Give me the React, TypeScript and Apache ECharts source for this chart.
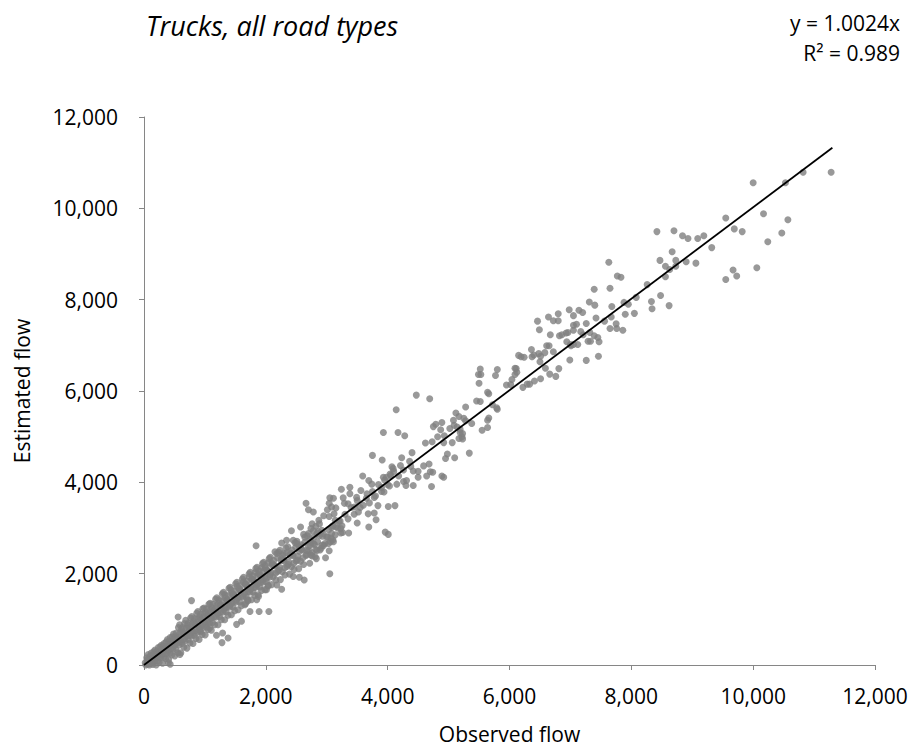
import React, { useEffect, useRef } from "react";
import * as echarts from "echarts";

const titleText = "Trucks, all road types";
const equationText = "y = 1.0024x";
const r2Text = "R² = 0.989";
const xAxisName = "Observed flow";
const yAxisName = "Estimated flow";
const axisMin = 0;
const axisMax = 12000;
const axisStep = 2000;
const trendSlope = 1.0024;
const trendXEnd = 11300;

// dense cloud near the origin (estimated)
const cloudLow: number[][] = [
  [20,50],[30,0],[45,160],[55,20],[70,230],[80,60],[90,0],[105,200],[115,40],[125,150],
  [135,200],[145,10],[160,290],[170,80],[180,330],[190,130],[200,0],[210,300],[220,90],[230,250],
  [240,280],[250,60],[265,400],[275,170],[285,430],[295,230],[305,40],[315,410],[325,170],[335,350],
  [345,380],[355,140],[365,510],[375,260],[385,560],[395,330],[405,120],[415,520],[425,260],[435,460],
  [445,480],[455,220],[465,620],[475,350],[485,680],[495,420],[505,200],[515,620],[525,340],[535,560],
  [545,580],[555,270],[565,820],[575,440],[585,880],[595,520],[605,270],[615,780],[625,470],[635,720],
  [645,680],[655,390],[665,910],[675,530],[685,980],[695,640],[705,370],[715,880],[725,560],[735,810],
  [745,780],[755,480],[765,1030],[775,630],[785,1060],[795,740],[805,470],[815,950],[825,650],[835,900],
  [845,880],[855,580],[865,1130],[875,720],[885,1170],[895,840],[905,560],[915,1050],[925,730],[935,1000],
  [945,970],[955,670],[965,1230],[975,820],[985,1250],[995,930],[1005,660],[1015,1150],[1025,830],[1035,1090],
];

const cloudMid: number[][] = [
  [1045,1070],[1055,780],[1065,1330],[1075,920],[1085,1350],[1095,1030],[1105,760],[1115,1250],[1125,930],[1135,1190],
  [1150,1180],[1160,880],[1175,1440],[1185,1050],[1195,1470],[1205,1140],[1215,880],[1225,1350],[1240,1060],[1250,1310],
  [1260,1290],[1270,990],[1285,1560],[1295,1160],[1305,1590],[1315,1260],[1325,990],[1335,1460],[1350,1160],[1360,1420],
  [1370,1400],[1380,1090],[1395,1680],[1405,1270],[1415,1700],[1425,1370],[1435,1100],[1445,1560],[1460,1270],[1470,1530],
  [1480,1500],[1490,1190],[1505,1780],[1515,1380],[1525,1810],[1535,1480],[1545,1210],[1555,1680],[1570,1380],[1580,1640],
  [1590,1620],[1600,1300],[1615,1880],[1625,1490],[1635,1920],[1645,1590],[1655,1320],[1665,1780],[1680,1490],[1690,1740],
  [1700,1720],[1710,1410],[1725,2000],[1735,1600],[1745,2030],[1755,1700],[1765,1430],[1775,1890],[1790,1600],[1800,1860],
  [1810,1830],[1820,1520],[1835,2110],[1845,1710],[1855,2140],[1865,1810],[1875,1540],[1885,2000],[1900,1710],[1910,1970],
  [1920,1940],[1930,1630],[1945,2220],[1955,1820],[1965,2250],[1975,1920],[1985,1650],[1995,2110],[2010,1820],[2020,2080],
  [2030,2050],[2040,1740],[2055,2330],[2065,1930],[2075,2360],[2085,2030],[2095,1760],[2105,2220],[2120,1930],[2130,2190],
];

const cloudHigh: number[][] = [
  [2150,2170],[2165,1860],[2180,2440],[2195,2050],[2210,2470],[2225,2140],[2240,1870],[2255,2330],[2270,2040],[2285,2300],
  [2300,2280],[2315,1970],[2330,2560],[2345,2160],[2360,2590],[2375,2260],[2390,1990],[2405,2450],[2420,2150],[2435,2410],
  [2450,2400],[2465,2090],[2480,2680],[2495,2280],[2510,2710],[2525,2380],[2540,2110],[2555,2570],[2570,2270],[2585,2530],
  [2600,2520],[2620,2200],[2640,2800],[2660,2400],[2680,2830],[2700,2500],[2720,2230],[2740,2690],[2760,2390],[2780,2660],
  [2800,2640],[2830,2330],[2860,2920],[2890,2520],[2920,2950],[2950,2620],[2980,2350],[3010,2810],[3040,2500],[3070,2780],
  [3100,2740],[3150,3030],[3200,3150],[3250,3050],[3300,3300],[3350,3200],[3400,3450],[3450,3300],[3500,3600],[3550,3450],
  [3600,3500],[3650,3650],[3700,3550],[3750,3800],[3800,3700],[3850,3950],[3900,3800],[3950,4050],[4000,3950],[4050,4150],
];

const cloudFill: number[][] = [
  [50,90],[65,130],[85,30],[100,110],[120,260],[140,90],[155,180],[175,230],[195,210],[215,170],
  [235,380],[255,180],[270,300],[290,330],[310,260],[330,470],[350,260],[370,400],[390,440],[410,330],
  [430,600],[450,380],[470,480],[490,560],[510,450],[530,700],[550,480],[570,610],[590,690],[610,520],
  [630,820],[650,560],[670,700],[690,800],[710,650],[730,920],[750,650],[770,820],[790,900],[810,720],
  [830,1020],[850,760],[870,930],[890,1020],[910,830],[930,1110],[950,860],[970,1040],[990,1120],[1010,920],
  [1030,1230],[1050,940],[1070,1120],[1090,1200],[1110,1030],[1130,1330],[1150,1050],[1170,1230],[1190,1300],[1210,1120],
  [1230,1430],[1250,1150],[1270,1320],[1290,1410],[1310,1210],[1330,1540],[1350,1260],[1370,1440],[1390,1520],[1410,1310],
  [1430,1640],[1450,1360],[1470,1550],[1490,1620],[1510,1420],[1530,1720],[1550,1480],[1570,1650],[1590,1740],[1610,1510],
  [1630,1820],[1650,1560],[1670,1760],[1690,1840],[1710,1610],[1730,1930],[1750,1660],[1770,1860],[1790,1950],[1810,1700],
  [1830,2030],[1850,1760],[1870,1970],[1890,2060],[1910,1800],[1930,2130],[1950,1860],[1970,2070],[1990,2170],[2010,1900],
  [2040,2240],[2070,1980],[2100,2190],[2130,2290],[2160,2010],[2190,2350],[2220,2080],[2250,2290],[2280,2400],[2310,2130],
  [2340,2460],[2370,2200],[2400,2400],[2430,2520],[2460,2230],[2490,2580],[2520,2300],[2550,2490],[2580,2630],[2610,2350],
  [2640,2690],[2670,2420],[2700,2600],[2730,2750],[2760,2460],[2790,2800],[2820,2530],[2850,2700],[2880,2830],[2910,2560],
  [2940,2880],[2970,2660],[3000,2800],[3030,2960],[3060,2700],[3100,3050],[3140,2850],[3180,3000],[3220,3150],[3260,2900],
];

// individually readable points
const pointsLowOutliers: number[][] = [
  [1840,2610],[2420,2940],[2570,3020],[2620,2860],[2700,2880],[2260,2670],[2340,2730],[2150,2480],[2230,2510],[2290,2440],
  [2450,2730],[2510,2660],[2560,2590],[2670,2510],[2730,2620],[2840,2510],[2920,2620],[3030,2660],[3110,2700],
  [3050,2000],[2450,1940],[2550,1920],[2630,1860],[2180,1750],[2260,1660],[2040,1730],[2010,1650],[1880,1500],[1850,1430],
  [1740,1170],[1890,1170],[2050,1170],[1190,650],[1290,700],[1380,590],[1280,490],[780,1410],[560,1050],[400,50],
  [2740,2410],[2810,2370],[1670,1350],[1700,1430],[1520,890],[1600,960],[1080,810],[920,760],[590,230],[430,15],
];

const pointsMid: number[][] = [
  [2660,3540],[2700,3400],[2780,3350],[3050,3660],[3110,3650],[3040,3540],[3080,3460],[3150,3440],[3010,3400],[3120,3310],
  [3040,3250],[3140,3170],[2950,3270],[2870,3170],[2880,3090],[2820,3040],[2760,3090],[2740,2990],[2780,2940],[2840,2880],
  [2930,2820],[3080,3010],[3080,2880],[3230,2990],[3230,2890],[3360,2890],[3500,3110],[3690,3020],[3810,3180],[3960,2910],
  [4010,2860],[3780,3330],[3680,3310],[3840,3490],[4010,3470],[4120,3490],[3780,3670],[3940,3790],[3900,3890],[3740,3960],
  [3690,4040],[3590,4140],[3380,3890],[3240,3850],[3290,3540],[3350,3530],[3270,3660],[3380,3750],[3490,3670],[3450,3460],
  [3520,3350],[3560,3820],[3660,3750],[3930,4110],[3980,4110],[4040,4180],[4100,4240],[4180,4140],[4260,4020],[4300,3930],
  [4420,3930],[4500,4110],[4640,4140],[4740,4220],[4420,4250],[4310,4040],[4150,3960],[4030,3920],
  [4140,5590],[3930,5090],[4170,5090],[3750,4590],[3910,4490],[4230,4540],[4400,4650],[4070,4340],[4090,4300],[4210,4370],
  [4260,4270],[4360,4460],[4380,4350],[4500,4240],[4590,4360],[4680,4400],[4700,4230],[4930,5020],[4720,3910],[4890,4140],
  [4920,4110],[4950,4520],[4980,4620],[5100,4540],[5190,5090],[5230,4950],[5340,4640],
];

const pointsUpperMid: number[][] = [
  [7390,8230],[7310,7950],[7400,7880],[6980,7780],[7140,7770],[7200,7720],[6800,7690],[6640,7620],[6720,7540],[6800,7540],
  [6460,7530],[7050,7650],[7050,7440],[7100,7460],[7260,7480],[7420,7600],[7760,7370],[7650,7370],[7860,7330],[6490,7340],
  [6670,7230],[6820,7210],[6860,7230],[6930,7270],[6960,7280],[7050,7330],[7170,7300],[7210,7230],[7320,7280],[7390,7210],
  [7450,7170],[7470,7080],[7290,7090],[7330,7090],[6940,7080],[7000,7020],[7050,7020],[7120,7020],[7010,6990],[6990,6680],
  [7260,6670],[7460,6760],[6610,6990],[6650,6990],[6580,6840],[6720,6860],[6480,6820],[6510,6760],[6360,6910],[6370,6750],
  [6400,6790],[6150,6780],[6190,6750],[6240,6740],[6500,6640],[6590,6500],[6660,6370],[6760,6320],[6810,6490],[6090,6500],
  [6110,6490],[6120,6410],[6090,6360],[6040,6250],[5950,6130],[6020,6140],[6220,6080],[6290,6150],[6330,6150],[6410,6220],
  [6510,6270],[5520,6480],[5530,6360],[5490,6360],[5500,6170],[5770,6340],[5800,6470],[5640,5970],[5660,5940],[5460,5780],
  [5520,5770],[5720,5700],[5790,5630],[5800,5600],[5280,5650],[5380,5290],[5660,5410],[5640,5360],[5550,5140],[5640,5200],
  [5120,5520],[5170,5440],[5250,5400],[5280,5350],[5080,5360],[5020,5180],[5090,5250],[5140,5210],[5190,5160],[5230,5070],
  [5220,5000],[5170,4960],[5060,4870],[4920,4870],[4820,5000],[4750,5220],[4790,5270],[4890,5310],[4870,5150],[4730,4890],
  [4620,4860],[4470,5910],[4690,5830],[4280,5020],
];

const pointsTop: number[][] = [
  [11280,10790],[10820,10790],[10000,10560],[10530,10560],[9550,9790],[10170,9880],[10570,9750],[9690,9550],[9820,9490],[10470,9460],
  [10240,9270],[9320,9140],[10060,8700],[9670,8650],[9730,8520],[9550,8440],[8420,9490],[8700,9510],[8840,9400],[8930,9340],
  [9090,9340],[9190,9400],[8670,9050],[8470,8860],[8730,8860],[8560,8730],[8730,8730],[8630,8660],[8900,8830],[9060,8800],
  [8560,8500],[7630,8820],[7770,8520],[7830,8490],[7650,8250],[8260,8330],[8080,8050],[7880,7940],[7950,7900],[7680,7850],
  [8480,8090],[8330,7960],[8340,7800],[8620,7870],[7900,7680],[8050,7700],[7560,7530],[7670,7620],[7750,7470],
];

const allPoints = [
  ...cloudLow, ...cloudMid, ...cloudHigh, ...cloudFill,
  ...pointsLowOutliers, ...pointsMid, ...pointsUpperMid, ...pointsTop,
];

const trendLine = [
  [0, 0],
  [trendXEnd, trendSlope * trendXEnd],
];

const FONT = "Open Sans";
const AXIS_GRAY = "#868686";

export default function App() {
  const ref = useRef<HTMLDivElement>(null);
  useEffect(() => {
    if (!ref.current) return;
    const chart = echarts.init(ref.current, null, { renderer: "svg" });
    const fmt = (v: number) => v.toLocaleString("en-US");
    const axisCommon = {
      type: "value" as const,
      min: axisMin,
      max: axisMax,
      interval: axisStep,
      nameLocation: "middle" as const,
      nameTextStyle: { fontFamily: FONT, fontSize: 21, color: "#000" },
      axisLine: { show: true, lineStyle: { color: AXIS_GRAY, width: 1 } },
      axisTick: { show: true, inside: false, length: 5, lineStyle: { color: AXIS_GRAY } },
      splitLine: { show: false },
      axisLabel: { fontFamily: FONT, fontSize: 21, color: "#000", formatter: fmt },
    };
    chart.setOption({
      animation: false,
      backgroundColor: "#fff",
      grid: { left: 144, right: 39, top: 117, bottom: 80, containLabel: false },
      xAxis: {
        ...axisCommon,
        name: xAxisName,
        nameGap: 58,
        axisLabel: { ...axisCommon.axisLabel, margin: 20 },
      },
      yAxis: {
        ...axisCommon,
        name: yAxisName,
        nameGap: 112,
        axisLabel: { ...axisCommon.axisLabel, margin: 26 },
      },
      graphic: [
        {
          type: "text",
          left: 146,
          top: 12,
          style: { text: titleText, font: `italic 27px "${FONT}"`, fill: "#000" },
        },
        {
          type: "text",
          right: 14,
          top: 12,
          style: { text: equationText, font: `21px "${FONT}"`, fill: "#000", textAlign: "right" },
        },
        {
          type: "text",
          right: 14,
          top: 42,
          style: { text: r2Text, font: `21px "${FONT}"`, fill: "#000", textAlign: "right" },
        },
      ],
      series: [
        {
          type: "scatter",
          data: allPoints,
          symbol: "circle",
          symbolSize: 7,
          itemStyle: { color: "#808080" },
          z: 2,
        },
        {
          type: "line",
          data: trendLine,
          symbol: "none",
          lineStyle: { color: "#000", width: 1.8 },
          z: 3,
        },
      ],
    });
    return () => chart.dispose();
  }, []);
  return (
    <div
      ref={ref}
      style={{ position: "absolute", left: 0, top: 0, width: 914, height: 749 }}
    />
  );
}
